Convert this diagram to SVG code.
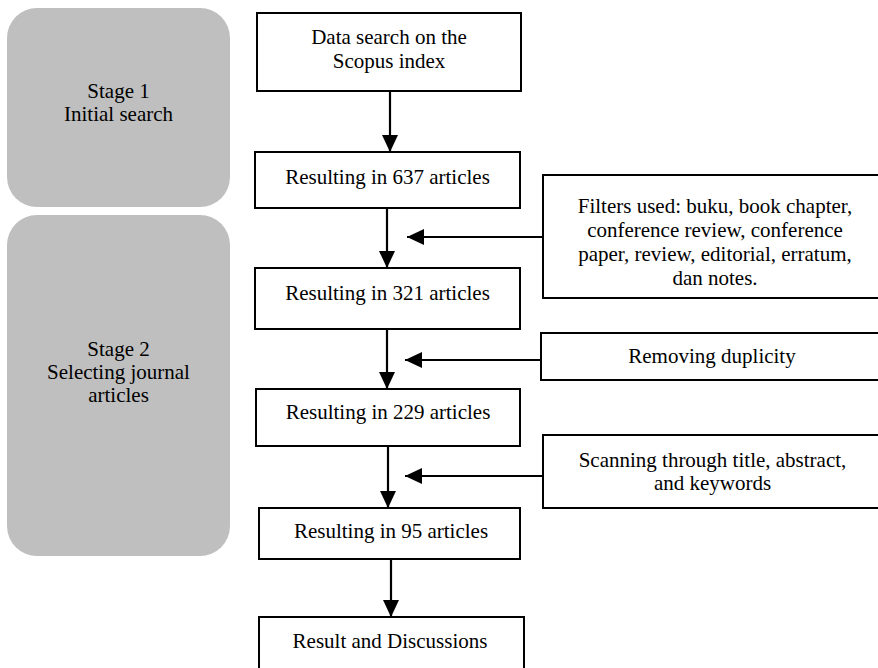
<svg xmlns="http://www.w3.org/2000/svg" width="878" height="668" viewBox="0 0 878 668">
<defs>
<style>
.stage{fill:#bfbfbf;stroke:none}
.box{fill:#fff;stroke:#000;stroke-width:2}
.t{font-family:"Liberation Serif","Times New Roman",serif;font-size:21px;fill:#000;text-anchor:middle}
.c{stroke:#000;stroke-width:2.2;fill:none;marker-end:url(#ah)}
</style>
<marker id="ah" markerUnits="userSpaceOnUse" markerWidth="18" markerHeight="16" refX="17" refY="8" orient="auto">
<path d="M0,0 L17,8 L0,16 z" fill="#000"/>
</marker>
</defs>
<rect width="878" height="668" fill="#fff"/>
<g id="stage1">
<rect class="stage" x="7" y="8" width="223" height="199" rx="30" ry="30"/>
<text class="t" x="118.5" y="98">Stage 1</text>
<text class="t" x="118.5" y="121">Initial search</text>
</g>
<g id="stage2">
<rect class="stage" x="7" y="215" width="223" height="341" rx="30" ry="30"/>
<text class="t" x="118.5" y="356">Stage 2</text>
<text class="t" x="118.5" y="379">Selecting journal</text>
<text class="t" x="118.5" y="402">articles</text>
</g>
<g id="search">
<rect class="box" x="257" y="13" width="264" height="78"/>
<text class="t" x="389" y="44">Data search on the</text>
<text class="t" x="389" y="68">Scopus index</text>
</g>
<g id="r637">
<rect class="box" x="255" y="152" width="265" height="56"/>
<text class="t" x="387.5" y="184">Resulting in 637 articles</text>
</g>
<g id="r321">
<rect class="box" x="255" y="268" width="265" height="61"/>
<text class="t" x="387.5" y="300">Resulting in 321 articles</text>
</g>
<g id="r229">
<rect class="box" x="256" y="389" width="264" height="57"/>
<text class="t" x="388" y="419">Resulting in 229 articles</text>
</g>
<g id="r95">
<rect class="box" x="259" y="508" width="261" height="51"/>
<text class="t" x="391" y="538">Resulting in 95 articles</text>
</g>
<g id="result">
<rect class="box" x="259" y="617" width="265" height="60"/>
<text class="t" x="390" y="648">Result and Discussions</text>
</g>
<g id="filters">
<rect class="box" x="543" y="175" width="344" height="123"/>
<text class="t" x="715" y="213">Filters used: buku, book chapter,</text>
<text class="t" x="715" y="237">conference review, conference</text>
<text class="t" x="715" y="261">paper, review, editorial, erratum,</text>
<text class="t" x="715" y="285">dan notes.</text>
</g>
<g id="duplicity">
<rect class="box" x="541" y="333" width="343" height="47"/>
<text class="t" x="712" y="363">Removing duplicity</text>
</g>
<g id="scanning">
<rect class="box" x="543" y="435" width="340" height="73"/>
<text class="t" x="712.5" y="467">Scanning through title, abstract,</text>
<text class="t" x="712.5" y="490">and keywords</text>
</g>
<g id="connectors">
<line class="c" x1="390" y1="92" x2="390" y2="152"/>
<line class="c" x1="387" y1="209" x2="387" y2="268"/>
<line class="c" x1="387" y1="330" x2="387" y2="389"/>
<line class="c" x1="388" y1="447" x2="388" y2="508"/>
<line class="c" x1="391" y1="560" x2="391" y2="617"/>
<line class="c" x1="542" y1="237" x2="407" y2="237"/>
<line class="c" x1="540" y1="360" x2="405" y2="360"/>
<line class="c" x1="542" y1="476" x2="405" y2="476"/>
</g>
</svg>
